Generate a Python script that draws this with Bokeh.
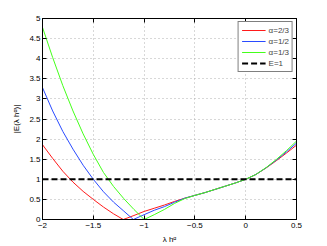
from bokeh.plotting import figure
from bokeh.models import LinearAxis, FixedTicker, Range1d, Legend, LegendItem, CustomLabelingPolicy
from bokeh.embed import file_html
from bokeh.resources import INLINE

# ---- data ----
x_red = [-2.0, -1.9, -1.8, -1.7, -1.6, -1.5, -1.4, -1.3, -1.205, -1.1, -1.0, -0.9, -0.8, -0.7, -0.6,
         -0.5, -0.4, -0.3, -0.2, -0.1, 0.0, 0.1, 0.2, 0.3, 0.4, 0.5]
y_red = [1.86, 1.52, 1.20, 0.93, 0.70, 0.50, 0.31, 0.14, 0.0, 0.10, 0.20, 0.28, 0.36, 0.45, 0.53,
         0.60, 0.67, 0.75, 0.83, 0.91, 1.0, 1.12, 1.28, 1.46, 1.65, 1.85]

x_blue = [-2.0, -1.9, -1.8, -1.7, -1.6, -1.5, -1.4, -1.3, -1.2, -1.106, -1.0, -0.9, -0.8, -0.7, -0.6,
          -0.5, -0.4, -0.3, -0.2, -0.1, 0.0, 0.1, 0.2, 0.3, 0.4, 0.5]
y_blue = [3.28, 2.70, 2.19, 1.75, 1.35, 1.0, 0.69, 0.43, 0.21, 0.0, 0.12, 0.23, 0.32, 0.43, 0.53,
          0.60, 0.67, 0.75, 0.83, 0.91, 1.0, 1.12, 1.285, 1.475, 1.68, 1.90]

x_green = [-2.0, -1.9, -1.8, -1.7, -1.6, -1.5, -1.4, -1.3, -1.2, -1.1, -1.0, -0.9, -0.8, -0.7, -0.6,
           -0.5, -0.4, -0.3, -0.2, -0.1, 0.0, 0.1, 0.2, 0.3, 0.4, 0.5]
y_green = [4.78, 4.03, 3.33, 2.70, 2.13, 1.62, 1.17, 0.82, 0.52, 0.25, 0.0, 0.12, 0.25, 0.40, 0.52,
           0.60, 0.67, 0.75, 0.83, 0.91, 1.0, 1.12, 1.29, 1.49, 1.71, 1.95]

x_one = [-2.0, 0.5]
y_one = [1.0, 1.0]

labels = ["\u03b1=2/3", "\u03b1=1/2", "\u03b1=1/3", "E=1"]
x_ticks = [-2, -1.5, -1, -0.5, 0, 0.5]
y_ticks = [0, 0.5, 1, 1.5, 2, 2.5, 3, 3.5, 4, 4.5, 5]

FONT = "Liberation Sans"

p = figure(width=327, height=246, output_backend="svg", toolbar_location=None,
           x_range=Range1d(-2, 0.5), y_range=Range1d(0, 5),
           min_border_left=42, min_border_right=31, min_border_top=18, min_border_bottom=27)
p.background_fill_color = "white"
p.border_fill_color = "white"
p.outline_line_color = "#000000"
p.outline_line_width = 1

r1 = p.line(x_red, y_red, line_color="#ff1a1a", line_width=1)
r2 = p.line(x_blue, y_blue, line_color="#2a4bff", line_width=1)
r3 = p.line(x_green, y_green, line_color="#44ff1a", line_width=1)
r4 = p.line(x_one, y_one, line_color="#000000", line_width=2, line_dash="6 3")

for ax in (p.xaxis[0], p.yaxis[0]):
    ax.major_tick_in = 4
    ax.major_tick_out = 0
    ax.minor_tick_in = 0
    ax.minor_tick_out = 0
    ax.axis_line_color = "#000000"
    ax.major_tick_line_color = "#000000"
    ax.major_label_text_font = FONT
    ax.major_label_text_font_size = "8px"
    ax.major_label_text_color = "#000000"
    ax.axis_label_text_font = FONT
    ax.axis_label_text_font_size = "8px"
    ax.axis_label_text_font_style = "normal"
    ax.axis_label_text_color = "#000000"

p.xaxis[0].ticker = FixedTicker(ticks=x_ticks)
p.yaxis[0].ticker = FixedTicker(ticks=y_ticks)
p.xaxis[0].major_label_overrides = {-2: "\u22122", -1.5: "\u22121.5", -1: "\u22121", -0.5: "\u22120.5"}
p.xaxis[0].axis_label = "\u03bb h\u1d45"
p.yaxis[0].axis_label = "|E(\u03bb h\u1d45)|"
p.xaxis[0].major_label_standoff = 3
p.xaxis[0].axis_label_standoff = 4
p.yaxis[0].major_label_standoff = 2
p.yaxis[0].axis_label_standoff = 5

# opposite-side tick marks (box on), without labels
no_labels = "for (const i of indices) { if (i < 0) yield i }"
top = LinearAxis(ticker=FixedTicker(ticks=x_ticks), major_tick_in=4, major_tick_out=0,
                 minor_tick_in=0, minor_tick_out=0,
                 major_label_policy=CustomLabelingPolicy(code=no_labels),
                 major_label_standoff=0, axis_line_color="#000000")
right = LinearAxis(ticker=FixedTicker(ticks=y_ticks), major_tick_in=4, major_tick_out=0,
                   minor_tick_in=0, minor_tick_out=0,
                   major_label_policy=CustomLabelingPolicy(code=no_labels),
                   major_label_standoff=0, axis_line_color="#000000")
p.add_layout(top, "above")
p.add_layout(right, "right")

p.xgrid.ticker = FixedTicker(ticks=x_ticks)
p.ygrid.ticker = FixedTicker(ticks=y_ticks)
for g in (p.xgrid[0], p.ygrid[0]):
    g.grid_line_color = "#b0b0b0"
    g.grid_line_dash = "1 3"
    g.grid_line_width = 1

legend = Legend(items=[LegendItem(label=labels[0], renderers=[r1]),
                       LegendItem(label=labels[1], renderers=[r2]),
                       LegendItem(label=labels[2], renderers=[r3]),
                       LegendItem(label=labels[3], renderers=[r4])],
                location="top_right")
legend.border_line_color = "#000000"
legend.border_line_width = 1
legend.background_fill_color = "white"
legend.background_fill_alpha = 1
legend.label_text_font = FONT
legend.label_text_font_size = "8px"
legend.glyph_width = 24
legend.glyph_height = 10
legend.label_height = 10
legend.label_standoff = 3
legend.spacing = 1
legend.padding = 3
legend.margin = 3
p.add_layout(legend)

open("out.html", "w").write(file_html(p, INLINE))
